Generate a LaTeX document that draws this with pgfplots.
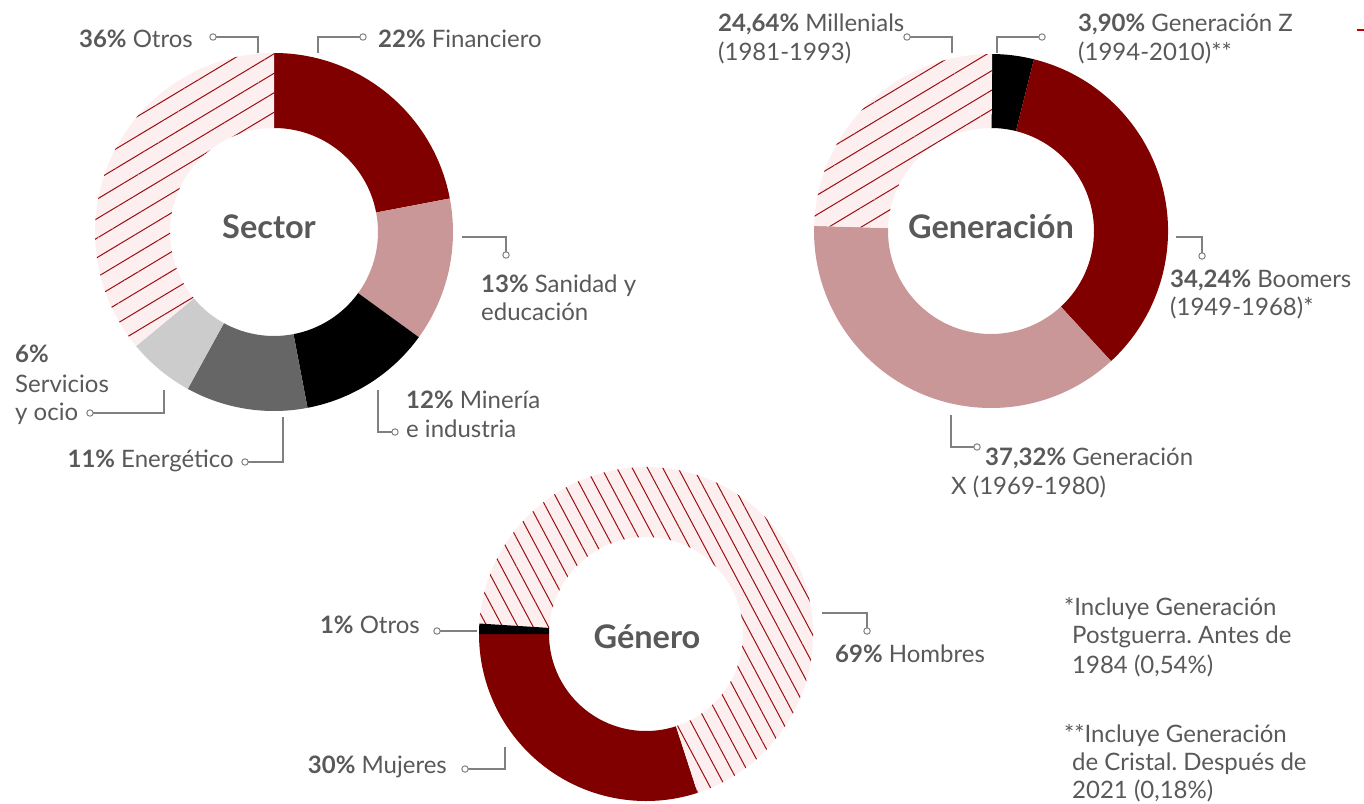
\documentclass[border=0pt]{standalone}
\usepackage{fontspec}
\setmainfont{Lato}
\usepackage{pgfplots}
\pgfplotsset{compat=1.18}
\usepackage{pgfplotstable}
\usetikzlibrary{patterns.meta}
\frenchspacing

\definecolor{granate}{HTML}{800000}
\definecolor{rosa}{HTML}{C99797}
\definecolor{gris}{HTML}{666666}
\definecolor{grisclaro}{HTML}{CCCCCC}
\definecolor{fondo}{HTML}{FDEFEF}
\definecolor{texto}{HTML}{595959}
\definecolor{linea}{HTML}{808080}
\definecolor{rayas}{HTML}{9A1010}

\tikzset{
  sRojo/.style={fill=granate},
  sRosa/.style={fill=rosa},
  sNegro/.style={fill=black},
  sGris/.style={fill=gris},
  sGrisClaro/.style={fill=grisclaro},
  sRayaA/.style={fill=fondo, postaction={pattern color=rayas,
      pattern={Lines[angle=31,distance=16.7pt,line width=1pt]}}},
  sRayaB/.style={fill=fondo, postaction={pattern color=rayas,
      pattern={Lines[angle=-62,distance=13.5pt,line width=1pt]}}},
  lab/.style={text=texto, font=\fontsize{24}{29.5}\selectfont, inner sep=0pt},
  tit/.style={text=texto, font=\fontsize{32.5}{38}\selectfont\bfseries, inner sep=0pt, anchor=base},
}

% porcentajes de cada anillo
\pgfplotstableread{
pct   sty
22    sRojo
13    sRosa
12    sNegro
11    sGris
6     sGrisClaro
36    sRayaA
}\sector

\pgfplotstableread{
pct     sty
3.90    sNegro
34.24   sRojo
37.32   sRosa
24.64   sRayaA
}\generacion

\pgfplotstableread{
pct   sty
30    sRojo
69    sRayaB
1     sNegro
}\genero

% #1 tabla, #2 cx, #3 cy, #4 radio ext, #5 radio int, #6 angulo inicial, #7 sentido
\newcommand\donut[7]{%
  \xdef\curang{#6}%
  \pgfplotstablegetrowsof{#1}%
  \pgfmathtruncatemacro\nrows{\pgfplotsretval-1}%
  \foreach \i in {0,...,\nrows}{%
    \pgfplotstablegetelem{\i}{pct}\of{#1}\let\pct\pgfplotsretval
    \pgfplotstablegetelem{\i}{sty}\of{#1}\let\sty\pgfplotsretval
    \pgfmathsetmacro\endang{\curang+(#7)*3.6*\pct}%
    \edef\temp{\noexpand\path[\sty]
      ([shift={(\curang:#4pt)}]axis cs:#2,#3)
      arc[start angle=\curang,end angle=\endang,radius=#4pt]
      -- ([shift={(\endang:#5pt)}]axis cs:#2,#3)
      arc[start angle=\endang,end angle=\curang,radius=#5pt] -- cycle;}%
    \temp
    \xdef\curang{\endang}%
  }%
}

\pgfplotsset{leader/.style={linea, line width=1.3pt, mark=*, mark indices={1},
  mark size=3.2pt, mark options={fill=white, draw=linea, line width=1pt}}}

\begin{document}
\begin{tikzpicture}
\begin{axis}[
  width=1364pt, height=803pt, scale only axis,
  xmin=0, xmax=1364, ymin=0, ymax=803, y dir=reverse,
  hide axis, clip=false,
]
  % anillos
  \donut{\sector}{274}{232}{179}{104}{90}{-1}
  \donut{\generacion}{991}{231}{177}{103}{90}{-1}
  \donut{\genero}{646}{634}{167}{97}{180}{1}

  % lineas guia
  \addplot[leader] coordinates {(213,37) (258,37) (258,53)};
  \addplot[leader] coordinates {(363,37) (318,37) (318,53)};
  \addplot[leader] coordinates {(506,255) (506,237) (462,237)};
  \addplot[leader] coordinates {(395,432) (378,432) (378,390)};
  \addplot[leader] coordinates {(245,462) (283,462) (283,417)};
  \addplot[leader] coordinates {(90,413) (164,413) (164,390)};
  \addplot[leader] coordinates {(907,37) (952,37) (952,53)};
  \addplot[leader] coordinates {(1042,37) (997,37) (997,53)};
  \addplot[leader] coordinates {(1202,256) (1202,237) (1176,237)};
  \addplot[leader] coordinates {(977,447) (951,447) (951,415)};
  \addplot[leader] coordinates {(437,631) (477,631)};
  \addplot[leader] coordinates {(465,769) (505,769) (505,747)};
  \addplot[leader] coordinates {(867,631) (867,613) (822,613)};
  \addplot[red!75!black, line width=1.5pt] coordinates {(1357,30) (1364,30)};

  % titulos
  \node[tit] at (axis cs:269,238) {Sector};
  \node[tit] at (axis cs:991,238) {Generación};
  \node[tit] at (axis cs:647,648) {Género};

  % etiquetas sector
  \node[lab, anchor=base east] at (axis cs:193,47) {\textbf{36\%} Otros};
  \node[lab, anchor=base west] at (axis cs:378,47) {\textbf{22\%} Financiero};
  \node[lab, anchor=base west] at (axis cs:481,292) {\textbf{13\%} Sanidad y};
  \node[lab, anchor=base west] at (axis cs:481,320) {educación};
  \node[lab, anchor=base west] at (axis cs:406,408) {\textbf{12\%} Minería};
  \node[lab, anchor=base west] at (axis cs:406,437) {e industria};
  \node[lab, anchor=base east] at (axis cs:234,467) {\textbf{11\%} Energético};
  \node[lab, anchor=base west] at (axis cs:15,362) {\textbf{6\%}};
  \node[lab, anchor=base west] at (axis cs:15,392) {Servicios};
  \node[lab, anchor=base west] at (axis cs:15,420) {y ocio};

  % etiquetas generacion
  \node[lab, anchor=base west] at (axis cs:718,31) {\textbf{24,64\%} Millenials};
  \node[lab, anchor=base west] at (axis cs:718,60) {(1981-1993)};
  \node[lab, anchor=base west] at (axis cs:1078,31) {\textbf{3,90\%} Generación Z};
  \node[lab, anchor=base west] at (axis cs:1078,60) {(1994-2010)**};
  \node[lab, anchor=base west] at (axis cs:1170,287) {\textbf{34,24\%} Boomers};
  \node[lab, anchor=base west] at (axis cs:1170,315) {(1949-1968)*};
  \node[lab, anchor=base west] at (axis cs:985,465) {\textbf{37,32\%} Generación};
  \node[lab, anchor=base west] at (axis cs:951,494) {X (1969-1980)};

  % etiquetas genero
  \node[lab, anchor=base east] at (axis cs:420,633) {\textbf{1\%} Otros};
  \node[lab, anchor=base east] at (axis cs:447,773) {\textbf{30\%} Mujeres};
  \node[lab, anchor=base west] at (axis cs:835,662) {\textbf{69\%} Hombres};

  % notas
  \node[lab, anchor=base west] at (axis cs:1064,615) {*Incluye Generación};
  \node[lab, anchor=base west] at (axis cs:1072,643) {Postguerra. Antes de};
  \node[lab, anchor=base west] at (axis cs:1072,673) {1984 (0,54\%)};
  \node[lab, anchor=base west] at (axis cs:1064,742) {**Incluye Generación};
  \node[lab, anchor=base west] at (axis cs:1072,770) {de Cristal. Después de};
  \node[lab, anchor=base west] at (axis cs:1072,798) {2021 (0,18\%)};
\end{axis}
\pgfresetboundingbox
\path[use as bounding box] (current axis.south west) rectangle (current axis.north east);
\end{tikzpicture}
\end{document}
